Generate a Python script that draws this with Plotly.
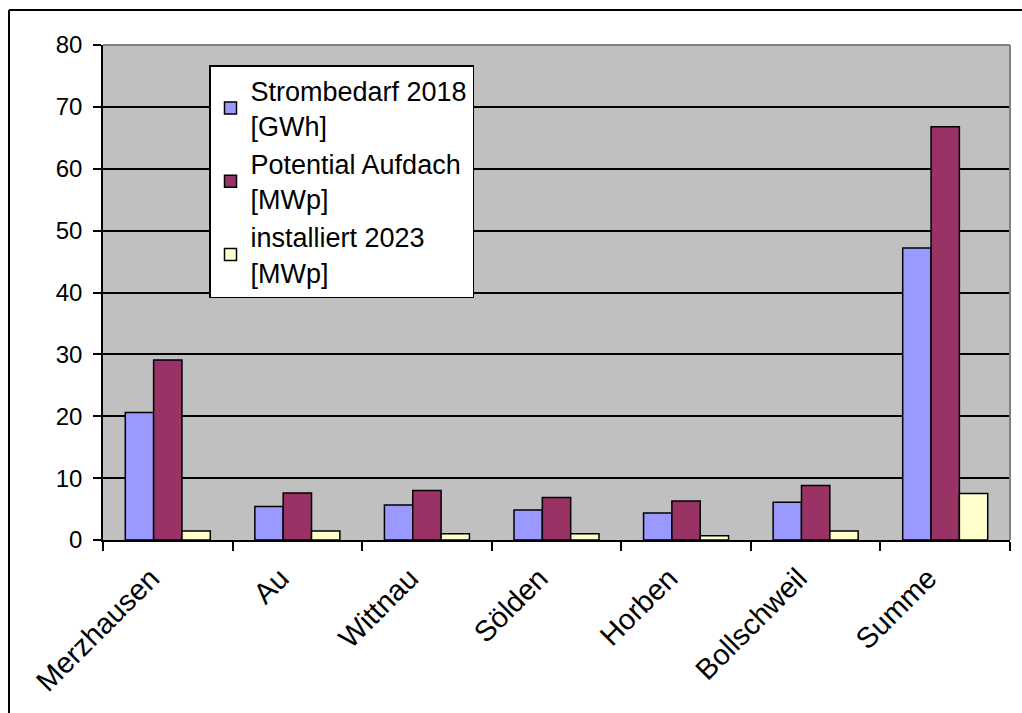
import plotly.graph_objects as go

categories = ["Merzhausen", "Au", "Wittnau", "Sölden", "Horben", "Bollschweil", "Summe"]
strombedarf_2018 = [20.6, 5.4, 5.65, 4.85, 4.35, 6.1, 47.2]
potential_aufdach = [29.1, 7.6, 8.0, 6.85, 6.3, 8.8, 66.8]
installiert_2023 = [1.45, 1.45, 1.0, 1.0, 0.7, 1.45, 7.5]
series_names = ["Strombedarf 2018<br>[GWh]", "Potential Aufdach<br>[MWp]", "installiert 2023<br>[MWp]"]
y_ticks = [0, 10, 20, 30, 40, 50, 60, 70, 80]

colors = ["#9999ff", "#993366", "#ffffcc"]
FONT = "Arial, Liberation Sans, sans-serif"

fig = go.Figure()
for name, vals, col in zip(series_names, [strombedarf_2018, potential_aufdach, installiert_2023], colors):
    fig.add_trace(go.Bar(
        x=categories, y=vals, name=name,
        marker=dict(color=col, line=dict(color="black", width=1.5)),
    ))

W, H = 1022, 713
ml, mr, mt, mb = 103, 12, 45, 173
pw = W - ml - mr
ph = H - mt - mb

fig.update_layout(
    width=W, height=H,
    margin=dict(l=ml, r=mr, t=mt, b=mb, pad=0),
    paper_bgcolor="white",
    plot_bgcolor="#c0c0c0",
    barmode="group",
    bargap=0.344,
    bargroupgap=0,
    font=dict(family=FONT, color="black"),
    showlegend=True,
    legend=dict(
        x=(209 - ml) / pw, y=1 - (65 - mt) / ph,
        xanchor="left", yanchor="top",
        bgcolor="white", bordercolor="black", borderwidth=1.5,
        font=dict(family=FONT, size=27, color="black"),
        tracegroupgap=0,
        itemwidth=30,
    ),
    xaxis=dict(
        type="category",
        showline=True, linecolor="black", linewidth=1.5,
        ticks="outside", tickson="boundaries", ticklen=9, tickcolor="black", tickwidth=1.5,
        tickangle=-45,
        ticklabelshift=-17,
        ticklabelstandoff=8,
        tickfont=dict(family=FONT, size=29, color="black"),
        showgrid=False,
    ),
    yaxis=dict(
        range=[0, 80],
        tickvals=y_ticks,
        showline=True, linecolor="black", linewidth=1.5,
        ticks="outside", ticklen=8, tickcolor="black", tickwidth=1.5,
        ticklabelstandoff=6,
        tickfont=dict(family=FONT, size=24, color="black"),
        showgrid=True, gridcolor="black", gridwidth=1.5,
        zeroline=False,
    ),
    shapes=[
        dict(type="line", xref="paper", yref="paper", x0=0, x1=1, y0=1, y1=1,
             line=dict(color="#808080", width=2), layer="above"),
        dict(type="line", xref="paper", yref="paper", x0=1, x1=1, y0=0, y1=1,
             line=dict(color="#808080", width=2), layer="above"),
        dict(type="line", xref="paper", yref="paper",
             x0=(9 - ml) / pw, x1=(W + 10 - ml) / pw,
             y0=1 + (mt - 10) / ph, y1=1 + (mt - 10) / ph,
             line=dict(color="black", width=2)),
        dict(type="line", xref="paper", yref="paper",
             x0=(9 - ml) / pw, x1=(9 - ml) / pw,
             y0=1 + (mt - 10) / ph, y1=-(mb + 10) / ph,
             line=dict(color="black", width=2)),
    ],
)

fig.write_html("out.html")
